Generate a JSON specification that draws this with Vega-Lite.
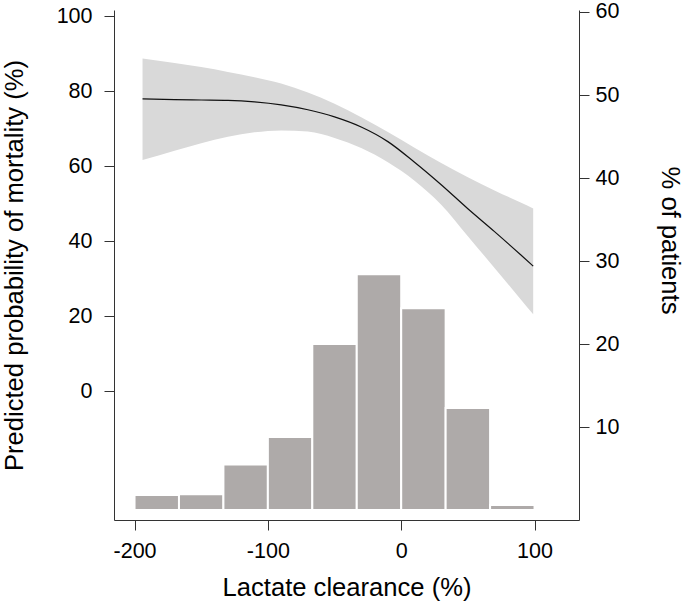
{
  "$schema": "https://vega.github.io/schema/vega-lite/v6.json",
  "width": 465,
  "height": 510,
  "autosize": {"type": "none"},
  "padding": {"left": 114, "top": 10, "right": 106, "bottom": 85},
  "background": "white",
  "config": {
    "view": {"stroke": null},
    "font": "Liberation Sans",
    "axis": {
      "grid": false,
      "domainColor": "#333333",
      "tickColor": "#333333",
      "labelColor": "#000000",
      "titleColor": "#000000",
      "labelFontSize": 21.5,
      "titleFontSize": 25.6,
      "titleFontWeight": "normal",
      "tickSize": 10,
      "domainWidth": 1,
      "tickWidth": 1,
      "labelFlush": false,
      "labelOverlap": false
    }
  },
  "datasets": {
    "hist": [
      {"bin_start": -200, "bin_end": -166.67, "pct": 1.8},
      {"bin_start": -166.67, "bin_end": -133.33, "pct": 1.9},
      {"bin_start": -133.33, "bin_end": -100, "pct": 5.5},
      {"bin_start": -100, "bin_end": -66.67, "pct": 8.8},
      {"bin_start": -66.67, "bin_end": -33.33, "pct": 20.0},
      {"bin_start": -33.33, "bin_end": 0, "pct": 28.4},
      {"bin_start": 0, "bin_end": 33.33, "pct": 24.3},
      {"bin_start": 33.33, "bin_end": 66.67, "pct": 12.3},
      {"bin_start": 66.67, "bin_end": 100, "pct": 0.6}
    ],
    "curve": [
      {"lac": -194, "lower": 61.6, "pred": 77.9, "upper": 88.7},
      {"lac": -170, "lower": 64.1, "pred": 77.7, "upper": 87.5},
      {"lac": -150, "lower": 66.1, "pred": 77.6, "upper": 86.4},
      {"lac": -130, "lower": 67.8, "pred": 77.5, "upper": 85.1},
      {"lac": -110, "lower": 69.0, "pred": 77.1, "upper": 83.7},
      {"lac": -90, "lower": 69.5, "pred": 76.3, "upper": 82.0},
      {"lac": -70, "lower": 69.2, "pred": 75.0, "upper": 79.6},
      {"lac": -50, "lower": 67.5, "pred": 73.1, "upper": 76.6},
      {"lac": -30, "lower": 64.8, "pred": 70.4, "upper": 73.0},
      {"lac": -10, "lower": 61.0, "pred": 66.5, "upper": 69.1},
      {"lac": 10, "lower": 56.1, "pred": 61.0, "upper": 64.9},
      {"lac": 30, "lower": 49.7, "pred": 55.0, "upper": 60.8},
      {"lac": 50, "lower": 41.3, "pred": 48.6, "upper": 57.0},
      {"lac": 70, "lower": 32.8, "pred": 42.5, "upper": 53.5},
      {"lac": 90, "lower": 24.3, "pred": 36.2, "upper": 50.2},
      {"lac": 99, "lower": 20.5, "pred": 33.3, "upper": 48.7}
    ]
  },
  "layer": [
    {
      "data": {"name": "hist"},
      "mark": {"type": "bar", "color": "#aeaaa9", "stroke": "white", "strokeWidth": 2},
      "encoding": {
        "x": {
          "field": "bin_start",
          "type": "quantitative",
          "scale": {"domain": [-215.4, 133.35], "nice": false, "zero": false},
          "axis": {
            "values": [-200, -100, 0, 100],
            "labelExpr": "'' + datum.value",
            "title": "Lactate clearance (%)",
            "labelPadding": 10,
            "titlePadding": 14
          }
        },
        "x2": {"field": "bin_end"},
        "y": {
          "field": "pct",
          "type": "quantitative",
          "scale": {"domain": [-1.2, 60.24], "nice": false, "zero": false},
          "axis": {
            "orient": "right",
            "values": [10, 20, 30, 40, 50, 60],
            "labelExpr": "'' + datum.value",
            "title": "% of patients",
            "labelPadding": 6,
            "titlePadding": 38,
            "titleY": 230
          }
        },
        "y2": {"datum": 0}
      }
    },
    {
      "data": {"name": "curve"},
      "layer": [
        {
          "mark": {"type": "area", "color": "#d9d9d9", "interpolate": "monotone"},
          "encoding": {
            "x": {"field": "lac", "type": "quantitative", "title": "Lactate clearance (%)"},
            "y": {
              "field": "lower",
              "type": "quantitative",
              "scale": {"domain": [-34.4, 101.6], "nice": false, "zero": false},
              "axis": {
                "orient": "left",
                "values": [0, 20, 40, 60, 80, 100],
                "labelExpr": "'' + datum.value",
                "title": "Predicted probability of mortality (%)",
                "labelPadding": 12,
                "titlePadding": 29
              }
            },
            "y2": {"field": "upper"}
          }
        },
        {
          "mark": {"type": "line", "color": "#111111", "strokeWidth": 1.2, "interpolate": "monotone"},
          "encoding": {
            "x": {"field": "lac", "type": "quantitative", "title": "Lactate clearance (%)"},
            "y": {"field": "pred", "type": "quantitative", "title": "Predicted probability of mortality (%)"}
          }
        }
      ]
    }
  ],
  "resolve": {"scale": {"y": "independent"}, "axis": {"y": "independent"}}
}
